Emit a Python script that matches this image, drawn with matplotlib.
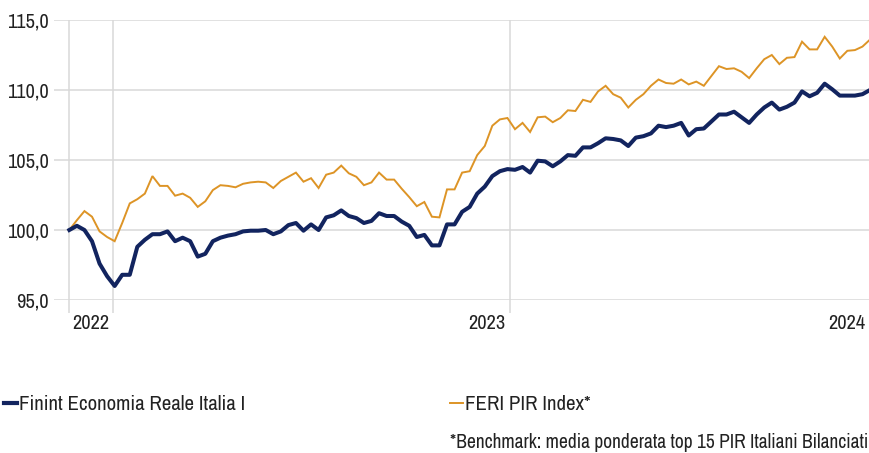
import matplotlib

matplotlib.use("Agg")
import matplotlib.pyplot as plt
from matplotlib import font_manager
from matplotlib.lines import Line2D

# prefer a condensed face if one is installed
installed = {f.name for f in font_manager.fontManager.ttflist}
condensed = [n for n in installed if "Condensed" in n or "Narrow" in n]
if condensed:
    plt.rcParams["font.family"] = [sorted(condensed)[0], "DejaVu Sans"]
    fs, fs_leg, fs_note = 14.7, 15, 14
else:
    plt.rcParams["font.family"] = ["Roboto", "DejaVu Sans"]
    fs, fs_leg, fs_note = 13, 13, 11.8

# weekly values, rebased to 100
fund = [
    100.0, 100.3, 100.0, 99.2, 97.6, 96.7, 96.0, 96.8, 96.8, 98.8,
    99.3, 99.7, 99.7, 99.9, 99.2, 99.45, 99.2, 98.1, 98.3, 99.2,
    99.45, 99.6, 99.7, 99.9, 99.95, 99.95, 100.0, 99.7, 99.9, 100.35,
    100.5, 99.95, 100.4, 100.0, 100.9, 101.05, 101.4, 101.0, 100.85, 100.5,
    100.65, 101.2, 101.0, 101.0, 100.6, 100.3, 99.5, 99.65, 98.9, 98.9,
    100.4, 100.4, 101.3, 101.65, 102.6, 103.1, 103.85, 104.2, 104.35, 104.3,
    104.5, 104.1, 104.95, 104.9, 104.55, 104.9, 105.35, 105.3, 105.9, 105.9,
    106.2, 106.55, 106.5, 106.4, 106.0, 106.6, 106.7, 106.9, 107.45, 107.35,
    107.45, 107.65, 106.75, 107.2, 107.25, 107.75, 108.25, 108.25, 108.45, 108.05,
    107.65, 108.25, 108.75, 109.1, 108.6, 108.8, 109.1, 109.9, 109.55, 109.8,
    110.45, 110.05, 109.6, 109.6, 109.6, 109.7, 110.0,
]
index = [
    100.0, 100.7, 101.35, 100.95, 99.9, 99.5, 99.2, 100.5, 101.9, 102.2,
    102.6, 103.85, 103.15, 103.15, 102.45, 102.6, 102.3, 101.65, 102.05, 102.85,
    103.2, 103.15, 103.05, 103.3, 103.4, 103.45, 103.4, 103.0, 103.5, 103.8,
    104.1, 103.45, 103.7, 103.0, 103.95, 104.1, 104.6, 104.05, 103.8, 103.2,
    103.4, 104.1, 103.6, 103.6, 102.95, 102.35, 101.7, 102.0, 100.95, 100.9,
    102.9, 102.9, 104.1, 104.2, 105.35, 106.0, 107.45, 107.9, 108.0, 107.2,
    107.65, 107.0, 108.05, 108.1, 107.7, 108.0, 108.55, 108.5, 109.3, 109.15,
    109.9, 110.3, 109.7, 109.45, 108.75, 109.3, 109.7, 110.3, 110.75, 110.5,
    110.45, 110.75, 110.4, 110.6, 110.3, 111.0, 111.7, 111.5, 111.55, 111.3,
    110.85, 111.55, 112.2, 112.5, 111.85, 112.3, 112.35, 113.45, 112.9, 112.9,
    113.8, 113.1, 112.25, 112.8, 112.85, 113.1, 113.6,
]
weeks = list(range(len(fund)))

year_ticks = [0, 5.8, 58.3, 106]
year_labels = ["2022", "2023", "2024"]
y_ticks = [95, 100, 105, 110, 115]

navy = "#12245f"
gold = "#dd9426"
grid = "#d9d9d9"
text = "#222222"

fig = plt.figure(figsize=(8.7, 4.53), dpi=100)
ax = fig.add_axes([54 / 870, 1 - 300 / 453, 1 - 54 / 870, 280 / 453])

ax.plot(weeks, index, color=gold, lw=1.4, solid_joinstyle="miter", zorder=3)
ax.plot(weeks, fund, color=navy, lw=2.9, solid_joinstyle="round", zorder=4)

ax.set_xlim(-2.03, 106)
ax.set_ylim(95, 115)
ax.set_yticks(y_ticks)
ax.set_yticklabels([f"{v:.1f}".replace(".", ",") for v in y_ticks])
ax.set_xticks(year_ticks)
ax.set_xticklabels([])

ax.grid(True, color=grid, lw=1.1)
ax.set_axisbelow(True)
for s in ax.spines.values():
    s.set_visible(False)
ax.tick_params(axis="y", length=0, pad=4, labelsize=fs, labelcolor=text)
ax.tick_params(axis="x", length=9.5, width=1.1, color=grid)

for pos, lab in zip(year_ticks[1:], year_labels):
    ax.text(pos - 0.55, -0.05, lab, transform=ax.get_xaxis_transform(),
            ha="right", va="top", fontsize=fs, color=text)

handles = [
    Line2D([], [], color=navy, lw=3),
    Line2D([], [], color=gold, lw=1.4),
]
fig.legend(handles, ["Finint Economia Reale Italia I", "FERI PIR Index*"],
           loc="center left", bbox_to_anchor=(0.0, 1 - 405 / 453), ncol=2,
           frameon=False, fontsize=fs_leg, handlelength=0.62, handletextpad=0.1,
           columnspacing=9.8, borderaxespad=0, borderpad=0.2,
           labelcolor=text)

fig.text(450 / 870, 5 / 453, "*Benchmark: media ponderata top 15 PIR Italiani Bilanciati",
         ha="left", va="baseline", fontsize=fs_note, color=text)

fig.savefig("out.png", dpi=100)
